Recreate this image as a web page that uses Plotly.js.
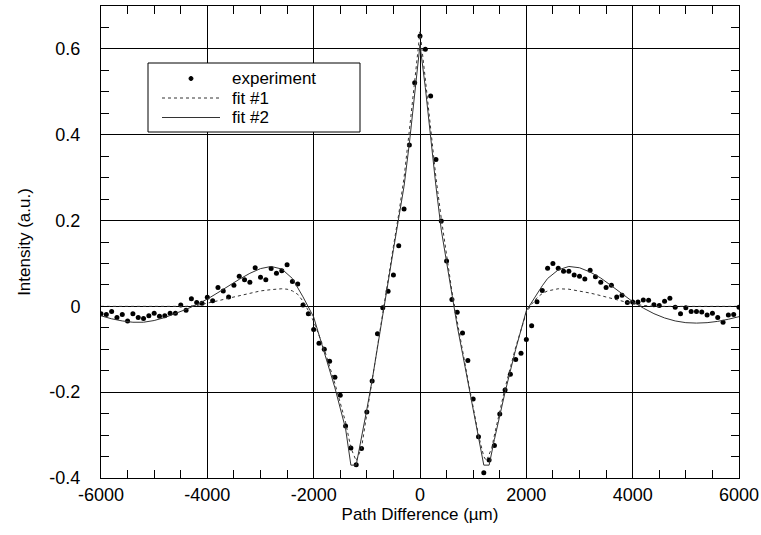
<!DOCTYPE html>
<html>
<head>
<meta charset="utf-8">
<script src="https://cdn.plot.ly/plotly-3.0.1.min.js"></script>
<style>html,body{margin:0;padding:0;background:#fff;}#chart{width:761px;height:535px;}</style>
</head>
<body>
<div id="chart"></div>
<script>
// Experiment (sampled every 100 µm)
var expX = [-6000,-5900,-5800,-5700,-5600,-5500,-5400,-5300,-5200,-5100,-5000,-4900,-4800,-4700,-4600,-4500,-4400,-4300,-4200,-4100,-4000,-3900,-3800,-3700,-3600,-3500,-3400,-3300,-3200,-3100,-3000,-2900,-2800,-2700,-2600,-2500,-2400,-2300,-2200,-2100,-2000,-1900,-1800,-1700,-1600,-1500,-1400,-1300,-1200,-1100,-1000,-900,-800,-700,-600,-500,-400,-300,-200,-100,0,100,200,300,400,500,600,700,800,900,1000,1100,1200,1300,1400,1500,1600,1700,1800,1900,2000,2100,2200,2300,2400,2500,2600,2700,2800,2900,3000,3100,3200,3300,3400,3500,3600,3700,3800,3900,4000,4100,4200,4300,4400,4500,4600,4700,4800,4900,5000,5100,5200,5300,5400,5500,5600,5700,5800,5900,6000];
var expY = [-0.017,-0.019,-0.012,-0.026,-0.019,-0.034,-0.017,-0.026,-0.028,-0.022,-0.016,-0.023,-0.022,-0.016,-0.016,0.003,-0.009,0.018,0.009,0.007,0.021,0.013,0.044,0.036,0.022,0.049,0.070,0.062,0.056,0.090,0.068,0.062,0.088,0.077,0.083,0.097,0.058,0.052,0.003,-0.017,-0.054,-0.086,-0.100,-0.128,-0.165,-0.207,-0.279,-0.330,-0.369,-0.331,-0.246,-0.174,-0.064,-0.003,0.035,0.073,0.141,0.227,0.376,0.521,0.630,0.599,0.490,0.342,0.199,0.106,0.016,-0.014,-0.062,-0.126,-0.216,-0.304,-0.388,-0.358,-0.324,-0.251,-0.195,-0.158,-0.124,-0.109,-0.077,-0.045,0.011,0.037,0.089,0.100,0.089,0.082,0.082,0.073,0.070,0.064,0.084,0.069,0.056,0.044,0.049,0.022,0.026,0.009,0.010,0.010,0.015,0.014,0.004,0.002,0.012,0.019,-0.002,-0.017,-0.003,-0.012,-0.012,-0.013,-0.020,-0.016,-0.026,-0.037,-0.020,-0.019,-0.002];

// Fit #1 (dotted)
var fit1X = [-6000,-5000,-4400,-4200,-4000,-3800,-3600,-3400,-3200,-3000,-2800,-2600,-2500,-2400,-2300,-2200,-2100,-2000,-1800,-1600,-1400,-1300,-1200,-1100,-1000,-900,-800,-700,-600,-500,-400,-300,-200,-100,0,100,200,300,400,500,600,700,800,900,1000,1100,1200,1250,1350,1400,1600,1800,2000,2100,2200,2300,2400,2600,2800,3000,3200,3400,3600,3800,4000,4200,4400,5000,6000];
var fit1Y = [0,0,0,0.002,0.007,0.013,0.019,0.025,0.031,0.036,0.039,0.041,0.040,0.036,0.028,0.012,-0.010,-0.035,-0.100,-0.180,-0.270,-0.330,-0.360,-0.330,-0.250,-0.170,-0.090,-0.010,0.065,0.140,0.215,0.300,0.410,0.530,0.640,0.530,0.410,0.300,0.205,0.120,0.035,-0.035,-0.105,-0.170,-0.235,-0.300,-0.350,-0.360,-0.330,-0.300,-0.190,-0.095,-0.015,0.005,0.020,0.030,0.036,0.041,0.040,0.036,0.031,0.025,0.019,0.012,0.006,0.002,0,0,0];

// Fit #2 (solid)
var fit2X = [-6000,-5800,-5600,-5400,-5200,-5000,-4800,-4600,-4400,-4200,-4000,-3800,-3600,-3400,-3200,-3000,-2800,-2600,-2400,-2300,-2200,-2000,-1800,-1600,-1400,-1300,-1200,-1100,-1000,-900,-800,-700,-600,-500,-400,-300,-200,-100,0,100,200,300,400,500,600,700,800,900,1000,1100,1200,1300,1400,1600,1800,2000,2100,2200,2300,2400,2600,2800,3000,3200,3400,3600,3800,4000,4200,4400,4600,4800,5000,5200,5400,5600,5800,6000];
var fit2Y = [-0.022,-0.029,-0.034,-0.037,-0.037,-0.033,-0.026,-0.017,-0.007,0.004,0.017,0.032,0.048,0.063,0.077,0.088,0.093,0.087,0.065,0.045,0.022,-0.025,-0.105,-0.190,-0.285,-0.370,-0.370,-0.300,-0.240,-0.172,-0.094,-0.016,0.058,0.132,0.206,0.280,0.380,0.500,0.610,0.510,0.390,0.280,0.178,0.100,0.023,-0.046,-0.110,-0.175,-0.240,-0.300,-0.370,-0.370,-0.310,-0.200,-0.100,-0.010,0.010,0.028,0.048,0.065,0.085,0.093,0.090,0.080,0.066,0.048,0.029,0.011,-0.004,-0.017,-0.027,-0.034,-0.038,-0.039,-0.038,-0.035,-0.030,-0.024];

// Axis ticks
var xTickVals = [-6000,-4000,-2000,0,2000,4000,6000];
var xTickText = ['-6000','-4000','-2000','0','2000','4000','6000'];
var yTickVals = [-0.4,-0.2,0,0.2,0.4,0.6];
var yTickText = ['-0.4','-0.2','0','0.2','0.4','0.6'];

// Legend entries
var legendNames = ['experiment', 'fit #1', 'fit #2'];

var FONT = 'Liberation Sans, Arial, Helvetica, sans-serif';
var W = 761, H = 535, ML = 101, MR = 22, MT = 6, MB = 57;
var PW = W - ML - MR, PH = H - MT - MB;
function px(x) { return (x - ML) / PW; }
function py(y) { return (H - MB - y) / PH; }

var lineColor = '#333';

var traces = [
  {x: expX, y: expY, name: legendNames[0], type: 'scatter', mode: 'markers',
   marker: {color: '#000', size: 5}, showlegend: false},
  {x: fit1X, y: fit1Y, name: legendNames[1], type: 'scatter', mode: 'lines',
   line: {color: lineColor, width: 1, dash: 'dot'}, showlegend: false},
  {x: fit2X, y: fit2Y, name: legendNames[2], type: 'scatter', mode: 'lines',
   line: {color: lineColor, width: 1}, showlegend: false}
];

var axisCommon = {
  showline: true, linecolor: '#000', linewidth: 1, mirror: 'ticks',
  ticks: 'inside', ticklen: 5, tickcolor: '#000',
  showgrid: true, gridcolor: '#000', gridwidth: 1,
  zeroline: true, zerolinecolor: '#000', zerolinewidth: 1,
  tickmode: 'array',
  tickfont: {family: FONT, size: 18, color: '#000'}
};

// Legend box (drawn in paper space)
var lgL = 148, lgR = 360, lgT = 63, lgB = 132;
var rowY = [78.5, 98, 117.5];
var sampleL = 162, sampleR = 220, textX = 231;

var shapes = [
  {type: 'rect', xref: 'paper', yref: 'paper', x0: px(lgL), x1: px(lgR), y0: py(lgB), y1: py(lgT),
   line: {color: '#000', width: 1}, fillcolor: '#fff', layer: 'above'},
  {type: 'circle', xref: 'paper', yref: 'paper', x0: px(189), x1: px(193), y0: py(rowY[0] + 2), y1: py(rowY[0] - 2),
   line: {color: '#000', width: 1}, fillcolor: '#000', layer: 'above'},
  {type: 'line', xref: 'paper', yref: 'paper', x0: px(sampleL), x1: px(sampleR), y0: py(rowY[1]), y1: py(rowY[1]),
   line: {color: lineColor, width: 1, dash: 'dot'}, layer: 'above'},
  {type: 'line', xref: 'paper', yref: 'paper', x0: px(sampleL), x1: px(sampleR), y0: py(rowY[2]), y1: py(rowY[2]),
   line: {color: lineColor, width: 1}, layer: 'above'}
];

var annotations = legendNames.map(function (t, i) {
  return {text: t, xref: 'paper', yref: 'paper', x: px(textX), y: py(rowY[i]),
          xanchor: 'left', yanchor: 'middle', showarrow: false, borderpad: 0,
          font: {family: FONT, size: 17, color: '#000'}};
});

var layout = {
  width: W, height: H,
  margin: {l: ML, r: MR, t: MT, b: MB},
  paper_bgcolor: '#fff', plot_bgcolor: '#fff',
  font: {family: FONT, color: '#000'},
  showlegend: false,
  shapes: shapes,
  annotations: annotations,
  xaxis: Object.assign({}, axisCommon, {
    range: [-6000, 6000],
    tickvals: xTickVals, ticktext: xTickText,
    minor: {tickmode: 'linear', tick0: 0, dtick: 500, ticks: 'inside', ticklen: 8, tickcolor: '#000'},
    title: {text: 'Path Difference (\u00b5m)', font: {family: FONT, size: 17, color: '#000'}, standoff: 2}
  }),
  yaxis: Object.assign({}, axisCommon, {
    range: [-0.4, 0.7],
    tickvals: yTickVals, ticktext: yTickText,
    ticklabelstandoff: 16,
    minor: {tickmode: 'linear', tick0: 0, dtick: 0.05, ticks: 'inside', ticklen: 8, tickcolor: '#000'},
    title: {text: 'Intensity (a.u.)', font: {family: FONT, size: 17, color: '#000'}, standoff: 14}
  })
};

Plotly.newPlot('chart', traces, layout, {displayModeBar: false, staticPlot: true});
</script>
</body>
</html>
